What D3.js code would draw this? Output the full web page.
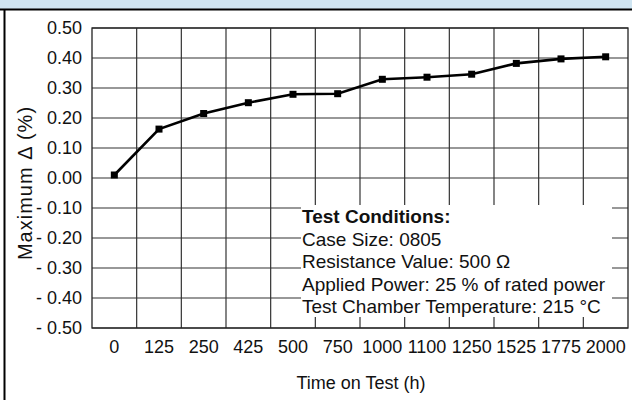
<!DOCTYPE html>
<html lang="en">
<head>
<meta charset="utf-8">
<title>Maximum delta vs time on test</title>
<script src="https://d3js.org/d3.v7.min.js"></script>
<style>
  body { margin: 0; background: #fff; }
  text { font-family: "Liberation Sans", Arial, sans-serif; fill: #111; }
</style>
</head>
<body>
<div id="chart"></div>
<script>
// data
var hours = ["0", "125", "250", "425", "500", "750", "1000", "1100", "1250", "1525", "1775", "2000"];
var maxDelta = [0.01, 0.163, 0.215, 0.251, 0.279, 0.281, 0.329, 0.336, 0.346, 0.382, 0.397, 0.404];
var yTicks = [0.5, 0.4, 0.3, 0.2, 0.1, 0, -0.1, -0.2, -0.3, -0.4, -0.5];
var conditions = [
  "Case Size: 0805",
  "Resistance Value: 500 \u03A9",
  "Applied Power: 25 % of rated power",
  "Test Chamber Temperature: 215 \u00B0C"
];

var W = 632, H = 400;
var pLeft = 92, pRight = 628, pTop = 28, pBottom = 328;
var fs = 18;

var svg = d3.select("#chart").append("svg")
    .attr("width", W).attr("height", H);

// header band + frame
svg.append("rect").attr("x", 0).attr("y", 0).attr("width", W).attr("height", 9)
    .attr("fill", "#cfe5f2");
svg.append("line").attr("x1", 0).attr("x2", W).attr("y1", 9.5).attr("y2", 9.5)
    .attr("stroke", "#000").attr("stroke-width", 2);
svg.append("line").attr("x1", 4.5).attr("x2", 4.5).attr("y1", 9).attr("y2", H)
    .attr("stroke", "#000").attr("stroke-width", 2);

var x = d3.scaleBand().domain(hours).range([pLeft, pRight]).padding(0);
var y = d3.scaleLinear().domain([-0.5, 0.5]).range([pBottom, pTop]);

// grid
var grid = svg.append("g").attr("stroke", "#333").attr("stroke-width", 1.2);
grid.selectAll("line.h").data(yTicks).enter().append("line")
    .attr("x1", pLeft).attr("x2", pRight)
    .attr("y1", d => y(d)).attr("y2", d => y(d));
grid.selectAll("line.v").data(hours.slice(1)).enter().append("line")
    .attr("x1", d => x(d)).attr("x2", d => x(d))
    .attr("y1", pTop).attr("y2", pBottom);
svg.append("rect").attr("x", pLeft).attr("y", pTop)
    .attr("width", pRight - pLeft).attr("height", pBottom - pTop)
    .attr("fill", "none").attr("stroke", "#222").attr("stroke-width", 1.3);

// y tick labels
function fmt(d) {
  return d < 0 ? "- " + d3.format(".2f")(-d) : d3.format(".2f")(d);
}
svg.selectAll("text.yt").data(yTicks).enter().append("text")
    .attr("x", 82).attr("y", d => y(d)).attr("dy", "0.35em")
    .attr("text-anchor", "end").attr("font-size", fs)
    .text(fmt);

// x tick labels
svg.selectAll("text.xt").data(hours).enter().append("text")
    .attr("x", d => x(d) + x.bandwidth() / 2).attr("y", 347).attr("dy", "0.35em")
    .attr("text-anchor", "middle").attr("font-size", fs)
    .text(d => d);

svg.append("text").attr("x", 361).attr("y", 383).attr("dy", "0.35em")
    .attr("text-anchor", "middle").attr("font-size", fs)
    .text("Time on Test (h)");

svg.append("text")
    .attr("transform", "translate(25,183) rotate(-90)")
    .attr("dy", "0.35em").attr("text-anchor", "middle").attr("font-size", 20)
    .attr("letter-spacing", 1)
    .text("Maximum \u0394 (%)");

// conditions box (covers the grid)
svg.append("rect").attr("x", 301).attr("y", 205).attr("width", 311).attr("height", 112)
    .attr("fill", "#fff");
svg.append("text").attr("x", 302).attr("y", 216.5).attr("dy", "0.35em")
    .attr("font-size", 19).attr("font-weight", "bold").text("Test Conditions:");
svg.selectAll("text.cond").data(conditions).enter().append("text")
    .attr("x", 302).attr("y", (d, i) => 239 + i * 22.5).attr("dy", "0.35em")
    .attr("font-size", 19).text(d => d);

// series
var line = d3.line()
    .x((d, i) => x(hours[i]) + x.bandwidth() / 2)
    .y(d => y(d));
svg.append("path").datum(maxDelta).attr("d", line)
    .attr("fill", "none").attr("stroke", "#000").attr("stroke-width", 2.6);
svg.selectAll("rect.pt").data(maxDelta).enter().append("rect")
    .attr("x", (d, i) => x(hours[i]) + x.bandwidth() / 2 - 3.5)
    .attr("y", d => y(d) - 3.5)
    .attr("width", 7).attr("height", 7)
    .attr("fill", "#000");
</script>
</body>
</html>
